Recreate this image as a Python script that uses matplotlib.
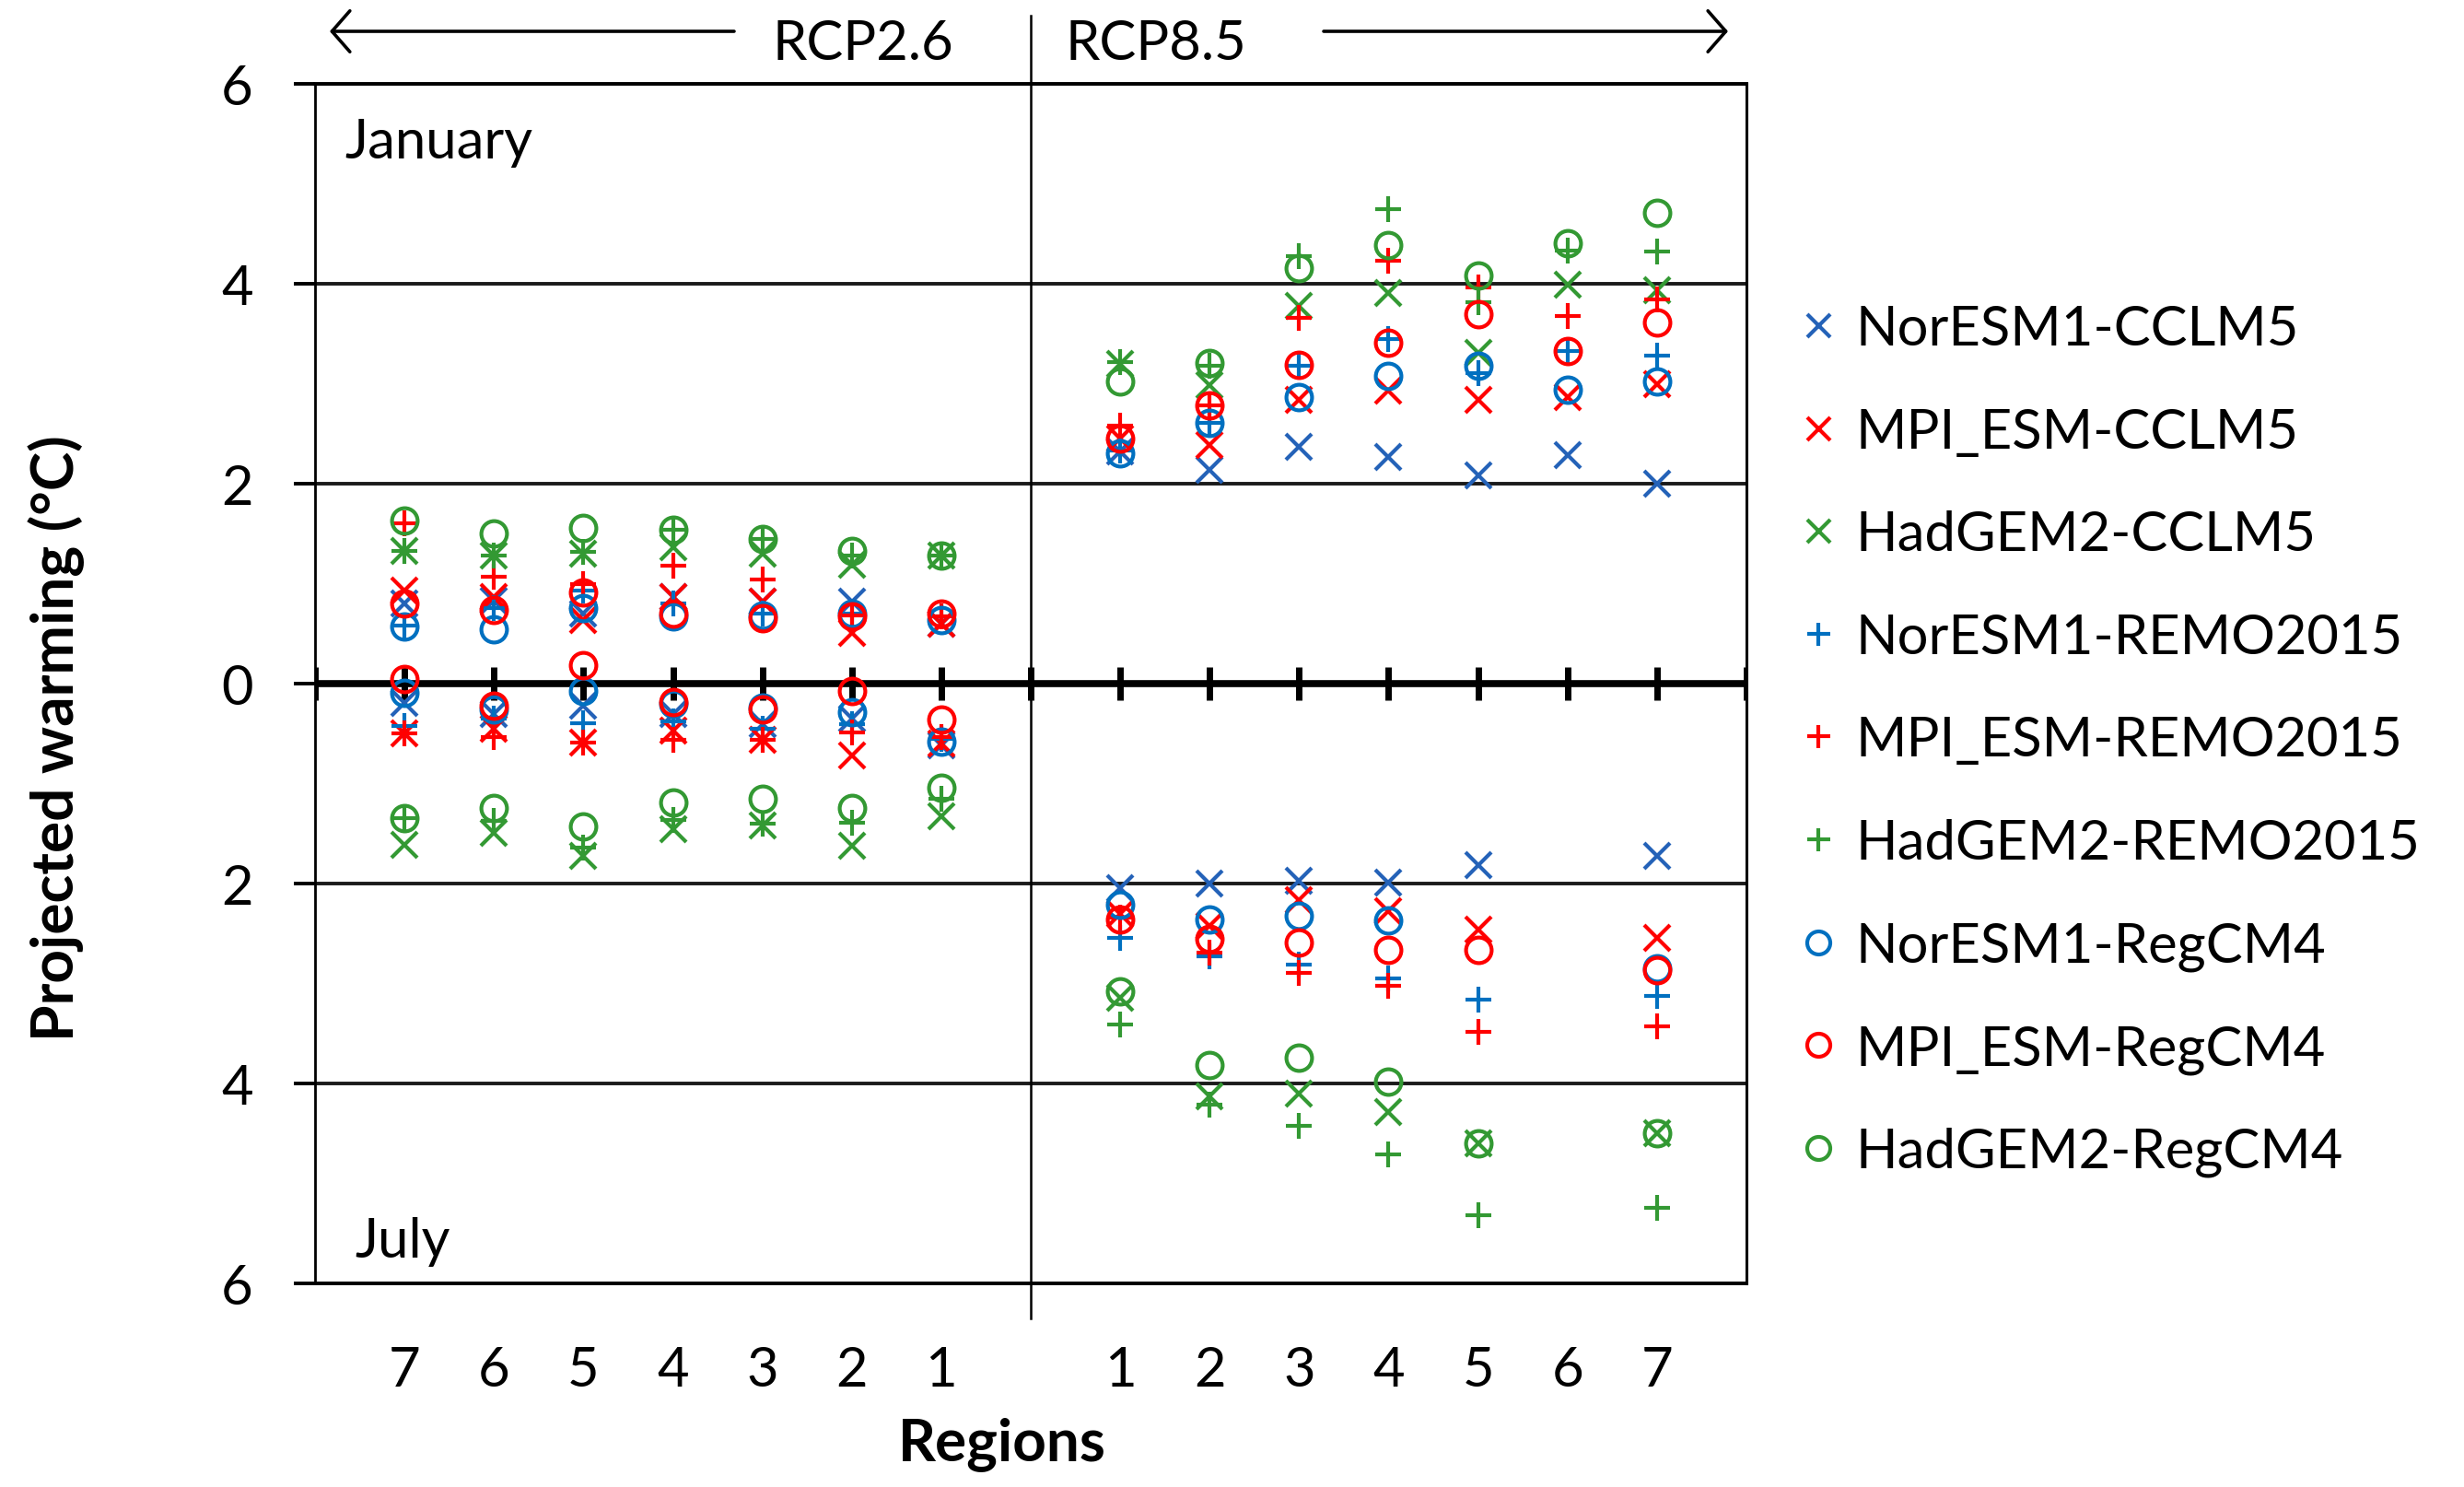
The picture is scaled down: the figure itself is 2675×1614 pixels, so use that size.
import numpy as np
import matplotlib.pyplot as plt

plt.rcParams['font.family'] = ['Lato', 'DejaVu Sans']

models = ['NorESM1-CCLM5', 'MPI_ESM-CCLM5', 'HadGEM2-CCLM5',
          'NorESM1-REMO2015', 'MPI_ESM-REMO2015', 'HadGEM2-REMO2015',
          'NorESM1-RegCM4', 'MPI_ESM-RegCM4', 'HadGEM2-RegCM4']
colors = ['#2462B8', '#FF0000', '#339933',
          '#0070C0', '#FF0000', '#339933',
          '#0070C0', '#FF0000', '#339933']
markers = ['x', 'x', 'x', '+', '+', '+', 'o', 'o', 'o']

regions = np.arange(1, 8)
nan = np.nan

# January warming, regions 1..7, one row per model
jan_rcp26 = np.array([
    [0.60, 0.82, 0.82, 0.87, 0.70, 0.83, 0.80],
    [0.60, 0.51, 0.82, 0.87, 0.64, 0.87, 0.93],
    [1.28, 1.19, 1.30, 1.36, 1.30, 1.28, 1.33],
    [0.67, 0.70, 0.70, 0.80, 0.93, 0.76, 0.58],
    [0.67, 0.68, 1.04, 1.18, 1.00, 1.07, 1.60],
    [1.28, 1.28, 1.45, 1.54, 1.32, 1.28, 1.33],
    [0.64, 0.70, 0.68, 0.67, 0.76, 0.54, 0.57],
    [0.70, 0.67, 0.65, 0.70, 0.91, 0.74, 0.80],
    [1.28, 1.33, 1.45, 1.54, 1.56, 1.50, 1.63],
])
jan_rcp85 = np.array([
    [2.32, 2.14, 2.37, 2.27, 2.08, 2.29, 2.00],
    [2.45, 2.39, 2.84, 2.93, 2.84, 2.87, 3.00],
    [3.20, 2.99, 3.78, 3.91, 3.31, 3.99, 3.94],
    [2.33, 2.61, 3.18, 3.45, 3.11, 3.33, 3.28],
    [2.58, 2.78, 3.66, 4.23, 3.96, 3.68, 3.84],
    [3.22, 3.18, 4.28, 4.75, 3.82, 4.33, 4.32],
    [2.30, 2.61, 2.87, 3.08, 3.18, 2.94, 3.02],
    [2.45, 2.78, 3.19, 3.41, 3.70, 3.33, 3.61],
    [3.02, 3.21, 4.16, 4.39, 4.08, 4.41, 4.71],
])
# July warming (drawn downwards)
jul_rcp26 = np.array([
    [0.62, 0.35, 0.41, 0.30, 0.22, 0.30, 0.19],
    [0.60, 0.72, 0.56, 0.47, 0.59, 0.45, 0.50],
    [1.33, 1.62, 1.42, 1.46, 1.72, 1.49, 1.61],
    [0.55, 0.41, 0.45, 0.38, 0.40, 0.35, 0.42],
    [0.53, 0.49, 0.56, 0.56, 0.59, 0.53, 0.50],
    [1.15, 1.39, 1.40, 1.36, 1.64, 1.37, 1.35],
    [0.58, 0.29, 0.24, 0.20, 0.07, 0.26, 0.09],
    [0.36, 0.07, 0.26, 0.18, -0.18, 0.22, -0.05],
    [1.04, 1.24, 1.15, 1.19, 1.43, 1.24, 1.35],
])
jul_rcp85 = np.array([
    [2.05, 2.00, 1.97, 1.99, 1.82, nan, 1.72],
    [2.30, 2.42, 2.17, 2.28, 2.46, nan, 2.54],
    [3.14, 4.13, 4.10, 4.29, 4.60, nan, 4.50],
    [2.54, 2.73, 2.81, 2.95, 3.16, nan, 3.12],
    [2.34, 2.69, 2.89, 3.02, 3.48, nan, 3.43],
    [3.41, 4.21, 4.42, 4.71, 5.32, nan, 5.24],
    [2.21, 2.36, 2.32, 2.37, nan, nan, 2.85],
    [2.36, 2.55, 2.59, 2.66, 2.66, nan, 2.87],
    [3.08, 3.82, 3.74, 3.98, 4.60, nan, 4.50],
])

x26 = 8 - regions   # RCP2.6 mirrored to the left
x85 = 8 + regions

W, H = 2675, 1615
fig = plt.figure(figsize=(W / 100, H / 100), dpi=100)
ax = fig.add_axes([342 / W, 1 - 1394 / H, 1554 / W, 1302 / H])

ax.set_xlim(0, 16)
ax.set_ylim(-6, 6)

for i in range(9):
    kw = dict(ls='none', marker=markers[i], color=colors[i], ms=20, mew=3,
              mfc='none', zorder=5 + i, clip_on=False)
    ax.plot(x26, jan_rcp26[i], **kw)
    ax.plot(x85, jan_rcp85[i], **kw)
    ax.plot(x26, -jul_rcp26[i], **kw)
    ax.plot(x85, -jul_rcp85[i], **kw)

# grid, zero axis and separators
yt = np.arange(-6, 7, 2)
ax.set_yticks(yt)
ax.set_yticklabels([str(abs(v)) for v in yt])
ax.grid(axis='y', color='#1a1a1a', lw=2.8)
ax.axhline(0, color='black', lw=5.5, zorder=3)
ax.vlines(np.arange(0, 17), -0.165, 0.165, color='black', lw=5, zorder=3)
ax.axvline(8, ymin=-0.029, ymax=1.057, color='black', lw=1.8, clip_on=False)
for s in ['top', 'bottom']:
    ax.spines[s].set_linewidth(2.8)
ax.spines['left'].set_linewidth(2)
ax.spines['right'].set_linewidth(2.2)

ax.set_xticks(np.r_[x26, x85])
ax.set_xticklabels([str(r) for r in regions] * 2)
ax.tick_params(axis='x', length=0, pad=48, labelsize=43)
ax.tick_params(axis='y', direction='out', length=16.5, width=2.8, pad=32, labelsize=43)

ax.set_ylabel('Projected warming (°C)', fontsize=46, fontweight='bold', va='center')
ax.yaxis.set_label_coords(-0.181, 0.455)
ax.set_xlabel('Regions', fontsize=46, fontweight='bold', va='center')
ax.xaxis.set_label_coords(0.48, -0.133)

ax.text(0.33, 5.26, 'January', fontsize=43, va='baseline')
ax.text(0.45, -5.73, 'July', fontsize=43, va='baseline')

# pixel overlay for header arrows and legend
oax = fig.add_axes([0, 0, 1, 1])
oax.set_xlim(0, W)
oax.set_ylim(H, 0)
oax.axis('off')

arrow = dict(arrowstyle='->,head_length=0.35,head_width=0.4', lw=2.6,
             color='black', mutation_scale=40, shrinkA=0, shrinkB=0)
oax.annotate('', xy=(358, 35), xytext=(797, 35), arrowprops=arrow)
oax.annotate('', xy=(1876, 35), xytext=(1437, 35), arrowprops=arrow)
oax.text(839, 65, 'RCP2.6', fontsize=43, va='baseline')
oax.text(1157, 65, 'RCP8.5', fontsize=43, va='baseline')

for i, name in enumerate(models):
    yc = 354 + i * 111.6
    oax.plot(1974, yc, ls='none', marker=markers[i], color=colors[i], ms=18, mew=3,
             mfc='none')
    oax.text(2015, yc + 21, name, fontsize=43, va='baseline')

fig.savefig('out.png', dpi=100)
